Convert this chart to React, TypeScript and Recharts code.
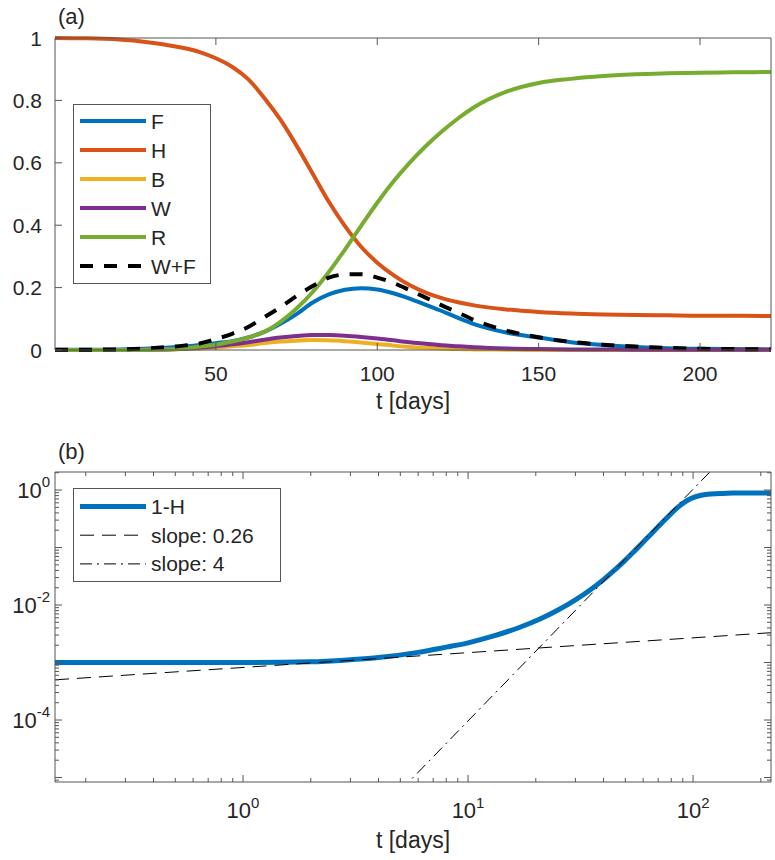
import React from "react";
import { LineChart, Line, XAxis, YAxis, Legend } from "recharts";

const FONT = '"Liberation Sans", Arial, Helvetica, sans-serif';
const INK = "#262626";
const FRAME = "#555555";
const BLUE = "#0072BD";
const ORANGE = "#D95319";
const YELLOW = "#EDB120";
const PURPLE = "#7E2F8E";
const GREEN = "#77AC30";

// panel (a): compartments against time, linear axes
const tA = [0.15, 10, 20, 30, 40, 45, 50, 55, 60, 65, 70, 75, 80, 85, 90, 95, 100, 105, 110, 115, 120, 125, 130, 140, 150, 160, 170, 180, 190, 200, 210, 222];
const F = [0.001, 0.001, 0.002, 0.005, 0.011, 0.016, 0.022, 0.028, 0.04, 0.058, 0.084, 0.115, 0.152, 0.178, 0.193, 0.198, 0.194, 0.182, 0.165, 0.145, 0.125, 0.103, 0.083, 0.056, 0.04, 0.025, 0.016, 0.01, 0.006, 0.004, 0.003, 0.002];
const H = [1.0, 0.999, 0.995, 0.985, 0.968, 0.955, 0.935, 0.908, 0.868, 0.808, 0.738, 0.655, 0.565, 0.475, 0.397, 0.331, 0.28, 0.24, 0.208, 0.184, 0.166, 0.153, 0.143, 0.13, 0.122, 0.117, 0.114, 0.112, 0.111, 0.11, 0.11, 0.109];
const B = [0, 0, 0, 0.001, 0.003, 0.005, 0.008, 0.012, 0.016, 0.022, 0.027, 0.03, 0.032, 0.031, 0.028, 0.024, 0.019, 0.014, 0.01, 0.007, 0.005, 0.003, 0.002, 0.001, 0, 0, 0, 0, 0, 0, 0, 0];
const W = [0, 0, 0, 0.001, 0.004, 0.008, 0.012, 0.018, 0.025, 0.033, 0.04, 0.045, 0.048, 0.048, 0.046, 0.042, 0.037, 0.031, 0.025, 0.02, 0.015, 0.012, 0.009, 0.005, 0.003, 0.002, 0.0015, 0.001, 0.001, 0.0005, 0.0005, 0.0005];
const R = [0, 0, 0, 0.001, 0.005, 0.011, 0.017, 0.027, 0.04, 0.058, 0.09, 0.133, 0.186, 0.25, 0.322, 0.398, 0.472, 0.54, 0.6, 0.653, 0.7, 0.742, 0.778, 0.828, 0.856, 0.869, 0.878, 0.884, 0.887, 0.889, 0.89, 0.891];
const WF = [0.001, 0.001, 0.002, 0.006, 0.014, 0.021, 0.035, 0.052, 0.074, 0.105, 0.137, 0.173, 0.205, 0.232, 0.242, 0.243, 0.232, 0.215, 0.192, 0.168, 0.143, 0.12, 0.096, 0.062, 0.041, 0.026, 0.017, 0.011, 0.007, 0.004, 0.003, 0.002];

const xTicksA = [50, 100, 150, 200];
const yTicksA = [0, 0.2, 0.4, 0.6, 0.8, 1];

// panel (b): 1-H on log-log axes plus two power-law guides
const tB = [0.146, 0.3, 0.6, 1, 2, 3, 4, 6, 8, 10, 13, 17, 21, 25, 30, 35, 40, 45, 50, 55, 60, 65, 70, 75, 80, 85, 90, 95, 100, 110, 120, 135, 150, 222];
const oneMinusH = [1e-3, 1e-3, 1e-3, 1e-3, 1.03e-3, 1.12e-3, 1.22e-3, 1.5e-3, 1.85e-3, 2.2e-3, 2.9e-3, 4.11e-3, 5.77e-3, 8.1e-3, 0.0123, 0.0185, 0.0277, 0.0411, 0.0603, 0.0875, 0.124, 0.171, 0.231, 0.305, 0.392, 0.49, 0.585, 0.67, 0.737, 0.818, 0.854, 0.875, 0.884, 0.89];
const slopeLowT = [0.146, 222];
const slopeLowV = [5.0e-4, 3.3e-3];
const slopeHighT = [5.0, 130];
const slopeHighV = [5.9e-6, 2.97];

const xDecadesB = [0.1, 1, 10, 100];
const yDecadesB = [1e-6, 1e-5, 1e-4, 1e-3, 1e-2, 1e-1, 1];
const minorSteps = [2, 3, 4, 5, 6, 7, 8, 9];
const xLabelsB = [1, 10, 100];
const yLabelsB = [1, 1e-2, 1e-4];

const xDomainA: [number, number] = [0.15, 222];
const xDomainB: [number, number] = [0.146, 222];
const yDomainB: [number, number] = [8.35e-6, 2.06];

const rowsA = tA.map((t, i) => ({ t, F: F[i], H: H[i], B: B[i], W: W[i], R: R[i], WF: WF[i] }));
const rowsB = tB.map((t, i) => ({ t, v: oneMinusH[i] }));
const rowsLow = slopeLowT.map((t, i) => ({ t, v: slopeLowV[i] }));
const rowsHigh = slopeHighT.map((t, i) => ({ t, v: slopeHighV[i] }));

const logTicks = (decades: number[], dom: [number, number]) =>
  decades
    .flatMap((d) => [d, ...minorSteps.map((m) => m * d)])
    .filter((v) => v >= dom[0] && v <= dom[1]);

const xTicksB = logTicks(xDecadesB, xDomainB);
const yTicksB = logTicks(yDecadesB, yDomainB);

const TICK = 7;
const MINOR = 4;

const isDecade = (v: number) => {
  const e = Math.log10(v);
  return Math.abs(e - Math.round(e)) < 1e-9;
};
const expOf = (v: number) => String(Math.round(Math.log10(v)));

const txt = { fontFamily: FONT, fontSize: 21, fill: INK };

// linear ticks, drawn inward like matlab
const linBottom = (p: any) => (
  <g>
    <line x1={p.x} y1={p.y} x2={p.x} y2={p.y - TICK} stroke={FRAME} />
    <text x={p.x} y={p.y + 31} textAnchor="middle" {...txt}>
      {p.payload.value}
    </text>
  </g>
);
const linTop = (p: any) => <line x1={p.x} y1={p.y} x2={p.x} y2={p.y + TICK} stroke={FRAME} />;
const linLeft = (p: any) => (
  <g>
    <line x1={p.x} y1={p.y} x2={p.x + TICK} y2={p.y} stroke={FRAME} />
    <text x={p.x - 13} y={p.y + 7.5} textAnchor="end" {...txt}>
      {p.payload.value}
    </text>
  </g>
);
const linRight = (p: any) => <line x1={p.x} y1={p.y} x2={p.x - TICK} y2={p.y} stroke={FRAME} />;

// log ticks with minor marks and 10^n labels
const logBottom = (p: any) => {
  const v = p.payload.value;
  const len = isDecade(v) ? TICK : MINOR;
  return (
    <g>
      <line x1={p.x} y1={p.y} x2={p.x} y2={p.y - len} stroke={FRAME} />
      {xLabelsB.includes(v) && (
        <text x={p.x} y={p.y + 36} textAnchor="middle" {...txt} fontSize={22}>
          10
          <tspan dy={-10} fontSize={15}>
            {expOf(v)}
          </tspan>
        </text>
      )}
    </g>
  );
};
const logTop = (p: any) => {
  const len = isDecade(p.payload.value) ? TICK : MINOR;
  return <line x1={p.x} y1={p.y} x2={p.x} y2={p.y + len} stroke={FRAME} />;
};
const logLeft = (p: any) => {
  const v = p.payload.value;
  const len = isDecade(v) ? TICK : MINOR;
  return (
    <g>
      <line x1={p.x} y1={p.y} x2={p.x + len} y2={p.y} stroke={FRAME} />
      {yLabelsB.includes(v) && (
        <text x={p.x - 5} y={p.y + 8} textAnchor="end" {...txt} fontSize={22}>
          10
          <tspan dy={-11} fontSize={15}>
            {expOf(v)}
          </tspan>
        </text>
      )}
    </g>
  );
};
const logRight = (p: any) => {
  const len = isDecade(p.payload.value) ? TICK : MINOR;
  return <line x1={p.x} y1={p.y} x2={p.x - len} y2={p.y} stroke={FRAME} />;
};

type Entry = { name: string; color: string; width: number; dash?: string };

const legendA: Entry[] = [
  { name: "F", color: BLUE, width: 4 },
  { name: "H", color: ORANGE, width: 4 },
  { name: "B", color: YELLOW, width: 4 },
  { name: "W", color: PURPLE, width: 4 },
  { name: "R", color: GREEN, width: 4 },
  { name: "W+F", color: "#000", width: 4, dash: "13 11" },
];
const legendB: Entry[] = [
  { name: "1-H", color: BLUE, width: 5 },
  { name: "slope: 0.26", color: "#000", width: 1, dash: "14 8" },
  { name: "slope: 4", color: "#000", width: 1, dash: "12 5 2 5" },
];

function LegendBox({ entries, width, height, first, step }: { entries: Entry[]; width: number; height: number; first: number; step: number }) {
  return (
    <svg width={width} height={height} style={{ display: "block" }}>
      <rect x={0.5} y={0.5} width={width - 1} height={height - 1} fill="#fff" stroke={FRAME} />
      {entries.map((e, i) => {
        const y = first + i * step;
        return (
          <g key={e.name}>
            <line x1={7} x2={73} y1={y} y2={y} stroke={e.color} strokeWidth={e.width} strokeDasharray={e.dash} />
            <text x={78} y={y + 7.5} {...txt}>
              {e.name}
            </text>
          </g>
        );
      })}
    </svg>
  );
}

// axes need a non-zero size to be drawn, so the margins give back that 1px
const axisCommon = { interval: 0 as const, tickSize: 0, tickMargin: 0, tickLine: false, axisLine: { stroke: FRAME } };

function PanelA() {
  return (
    <LineChart width={775} height={430} data={rowsA} margin={{ top: 37, right: 3, bottom: 79, left: 54 }}>
      <XAxis dataKey="t" type="number" domain={xDomainA} ticks={xTicksA} height={1} tick={linBottom} {...axisCommon} />
      <XAxis xAxisId="top" orientation="top" dataKey="t" type="number" domain={xDomainA} ticks={xTicksA} height={1} tick={linTop} {...axisCommon} />
      <YAxis type="number" domain={[0, 1]} ticks={yTicksA} width={1} tick={linLeft} {...axisCommon} />
      <YAxis yAxisId="right" orientation="right" type="number" domain={[0, 1]} ticks={yTicksA} width={1} tick={linRight} {...axisCommon} />
      <Line dataKey="F" type="monotone" stroke={BLUE} strokeWidth={4} dot={false} activeDot={false} isAnimationActive={false} />
      <Line dataKey="H" type="monotone" stroke={ORANGE} strokeWidth={4} dot={false} activeDot={false} isAnimationActive={false} />
      <Line dataKey="B" type="monotone" stroke={YELLOW} strokeWidth={4} dot={false} activeDot={false} isAnimationActive={false} />
      <Line dataKey="W" type="monotone" stroke={PURPLE} strokeWidth={4} dot={false} activeDot={false} isAnimationActive={false} />
      <Line dataKey="R" type="monotone" stroke={GREEN} strokeWidth={4} dot={false} activeDot={false} isAnimationActive={false} />
      <Line dataKey="WF" name="W+F" type="monotone" stroke="#000" strokeWidth={4} strokeDasharray="13 11" dot={false} activeDot={false} isAnimationActive={false} />
      <Legend layout="vertical" align="center" verticalAlign="middle" wrapperStyle={{ left: 73, top: 104, width: 138, height: 180 }} content={() => <LegendBox entries={legendA} width={138} height={180} first={17} step={29} />} />
      <text x={58} y={24} fontFamily={FONT} fontSize={22} fill={INK}>
        (a)
      </text>
      <text x={413} y={409} textAnchor="middle" fontFamily={FONT} fontSize={23} fill={INK}>
        t [days]
      </text>
    </LineChart>
  );
}

function PanelB() {
  return (
    <LineChart width={775} height={430} margin={{ top: 41, right: 3, bottom: 77, left: 54 }}>
      <XAxis dataKey="t" type="number" scale="log" domain={xDomainB} allowDataOverflow ticks={xTicksB} height={1} tick={logBottom} {...axisCommon} />
      <XAxis xAxisId="top" orientation="top" dataKey="t" type="number" scale="log" domain={xDomainB} allowDataOverflow ticks={xTicksB} height={1} tick={logTop} {...axisCommon} />
      <YAxis type="number" scale="log" domain={yDomainB} allowDataOverflow ticks={yTicksB} width={1} tick={logLeft} {...axisCommon} />
      <YAxis yAxisId="right" orientation="right" type="number" scale="log" domain={yDomainB} allowDataOverflow ticks={yTicksB} width={1} tick={logRight} {...axisCommon} />
      <Line data={rowsB} dataKey="v" name="1-H" type="monotone" stroke={BLUE} strokeWidth={5} dot={false} activeDot={false} isAnimationActive={false} />
      <Line data={rowsLow} dataKey="v" name="slope: 0.26" type="linear" stroke="#000" strokeWidth={1} strokeDasharray="14 8" dot={false} activeDot={false} isAnimationActive={false} />
      <Line data={rowsHigh} dataKey="v" name="slope: 4" type="linear" stroke="#000" strokeWidth={1} strokeDasharray="12 5 2 5" dot={false} activeDot={false} isAnimationActive={false} />
      <Legend layout="vertical" align="center" verticalAlign="middle" wrapperStyle={{ left: 73, top: 58, width: 208, height: 94 }} content={() => <LegendBox entries={legendB} width={208} height={94} first={18.5} step={28.7} />} />
      <text x={58} y={29} fontFamily={FONT} fontSize={22} fill={INK}>
        (b)
      </text>
      <text x={413} y={418} textAnchor="middle" fontFamily={FONT} fontSize={23} fill={INK}>
        t [days]
      </text>
    </LineChart>
  );
}

export default function App() {
  return (
    <div style={{ position: "absolute", left: 0, top: 0, width: 775, height: 860, background: "#fff" }}>
      <div style={{ position: "absolute", left: 0, top: 0 }}>
        <PanelA />
      </div>
      <div style={{ position: "absolute", left: 0, top: 430 }}>
        <PanelB />
      </div>
    </div>
  );
}
